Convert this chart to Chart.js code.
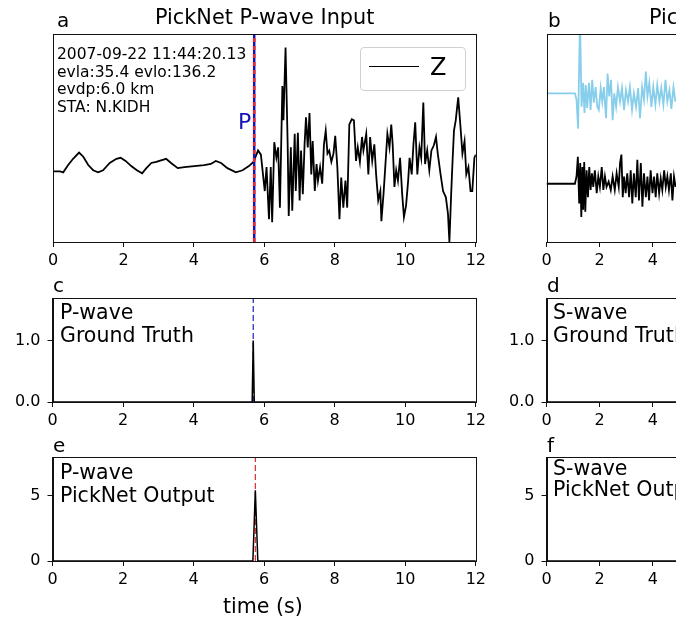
<!DOCTYPE html>
<html>
<head>
<meta charset="utf-8">
<script src="https://cdn.jsdelivr.net/npm/chart.js@4.4.1/dist/chart.umd.min.js"></script>
<style>
  body { margin: 0; background: #fff; }
  #fig { position: relative; width: 676px; height: 620px; overflow: hidden; background: #fff; }
  #fig canvas { position: absolute; }
  .t { position: absolute; white-space: nowrap; line-height: 1; font-family: 'DejaVu Sans', sans-serif; color: #000; }
</style>
</head>
<body>
<div id="fig">
  <canvas id="panelA" width="490" height="280" style="left:0;top:0"></canvas>
  <canvas id="panelB" width="500" height="280" style="left:490px;top:0"></canvas>
  <canvas id="panelC" width="490" height="160" style="left:0;top:280px"></canvas>
  <canvas id="panelD" width="500" height="160" style="left:490px;top:280px"></canvas>
  <canvas id="panelE" width="490" height="160" style="left:0;top:440px"></canvas>
  <canvas id="panelF" width="500" height="160" style="left:490px;top:440px"></canvas>

  <!-- titulos y letras de panel -->
  <div class="t" style="left:155px;top:7px;font-size:20.8px">PickNet P-wave Input</div>
  <div class="t" style="left:649px;top:7px;font-size:20.8px">PickNet S-wave Input</div>
  <div class="t" style="left:57px;top:10px;font-size:20px">a</div>
  <div class="t" style="left:548px;top:10px;font-size:20px">b</div>
  <div class="t" style="left:53px;top:275px;font-size:20px">c</div>
  <div class="t" style="left:547px;top:275px;font-size:20px">d</div>
  <div class="t" style="left:53px;top:435px;font-size:20px">e</div>
  <div class="t" style="left:547px;top:435px;font-size:20px">f</div>

  <!-- info del evento -->
  <div class="t" style="left:57px;top:47px;font-size:15.5px">2007-09-22 11:44:20.13</div>
  <div class="t" style="left:57px;top:65px;font-size:15.5px">evla:35.4 evlo:136.2</div>
  <div class="t" style="left:57px;top:82px;font-size:15.5px">evdp:6.0 km</div>
  <div class="t" style="left:57px;top:100px;font-size:15.5px">STA: N.KIDH</div>
  <div class="t" style="left:238px;top:111px;font-size:22px;color:#1414b4">P</div>

  <!-- leyenda -->
  <div style="position:absolute;left:360px;top:47px;width:104px;height:42px;border:1px solid #d0d0d0;border-radius:4px;background:rgba(255,255,255,0.8)"></div>
  <div style="position:absolute;left:369px;top:66px;width:50px;height:0;border-top:1.5px solid #000"></div>
  <div class="t" style="left:430px;top:55px;font-size:24px">Z</div>

  <div class="t" style="left:60px;top:302px;font-size:20.5px">P-wave</div>
  <div class="t" style="left:60px;top:325px;font-size:20.5px">Ground Truth</div>
  <div class="t" style="left:553px;top:302px;font-size:20.5px">S-wave</div>
  <div class="t" style="left:553px;top:325px;font-size:20.5px">Ground Truth</div>
  <div class="t" style="left:60px;top:462px;font-size:20.5px">P-wave</div>
  <div class="t" style="left:60px;top:485px;font-size:20.5px">PickNet Output</div>
  <div class="t" style="left:553px;top:458px;font-size:20.5px">S-wave</div>
  <div class="t" style="left:553px;top:479px;font-size:20.5px">PickNet Output</div>

  <div class="t" style="left:223px;top:596px;font-size:20.6px">time (s)</div>
</div>

<script>
// Traza Z (panel a), tiempo en s y amplitud normalizada
const timeA = [0.01, 0.20, 0.29, 0.43, 0.57, 0.74, 0.86, 1.00, 1.14, 1.28, 1.42, 1.61, 1.80, 1.92, 2.06, 2.22, 2.38, 2.53, 2.65, 2.79, 2.93,
  3.02, 3.21, 3.35, 3.54, 3.73, 4.01, 4.29, 4.48, 4.62, 4.77, 4.95, 5.19, 5.38, 5.56, 5.69, 5.82, 5.90,
  6.01, 6.06, 6.13, 6.18, 6.22, 6.28, 6.34, 6.39, 6.44, 6.51, 6.54, 6.60, 6.66, 6.69, 6.75, 6.79, 6.86, 6.89, 6.95,
  7.00, 7.04, 7.09, 7.14, 7.18, 7.23, 7.28, 7.33, 7.37, 7.43, 7.48, 7.52, 7.58, 7.64, 7.69, 7.74, 7.79, 7.84, 7.90, 7.96,
  8.01, 8.07, 8.13, 8.18, 8.24, 8.30, 8.35, 8.41, 8.48, 8.54, 8.60, 8.65, 8.71, 8.77, 8.81, 8.89, 8.95,
  9.00, 9.06, 9.12, 9.17, 9.23, 9.29, 9.32, 9.38, 9.43, 9.49, 9.55, 9.60, 9.64, 9.69, 9.74, 9.79, 9.85, 9.91, 9.96,
  10.02, 10.08, 10.12, 10.18, 10.23, 10.28, 10.34, 10.40, 10.45, 10.51, 10.56, 10.62, 10.68, 10.74, 10.81, 10.87, 10.92,
  11.00, 11.07, 11.15, 11.21, 11.25, 11.30, 11.34, 11.38, 11.43, 11.50, 11.56, 11.62, 11.68, 11.73, 11.79, 11.85, 11.90, 11.96, 12.00];
const ampA = [-0.32, -0.32, -0.33, -0.26, -0.20, -0.14, -0.18, -0.26, -0.31, -0.33, -0.31, -0.24, -0.20, -0.19, -0.22, -0.27, -0.31, -0.34, -0.29, -0.24, -0.23,
  -0.22, -0.20, -0.24, -0.29, -0.28, -0.27, -0.26, -0.25, -0.22, -0.24, -0.29, -0.33, -0.31, -0.27, -0.23, -0.12, -0.16,
  -0.51, -0.28, -0.78, -0.28, -0.81, -0.04, -0.19, -0.09, -0.67, 0.50, 0.17, 0.87, -0.06, -0.75, -0.09, -0.70, 0.04, -0.51, 0.05,
  -0.60, -0.12, -0.54, -0.06, 0.20, -0.09, 0.24, -0.35, -0.03, -0.51, -0.25, -0.41, -0.28, -0.44, -0.06, 0.07, -0.15, -0.12, -0.23, -0.15,
  0.02, -0.28, -0.78, -0.38, -0.67, -0.41, -0.67, 0.13, 0.18, 0.17, -0.22, -0.09, -0.23, 0.01, -0.12, 0.04, -0.35,
  0.01, -0.22, -0.06, -0.35, -0.60, -0.51, -0.80, -0.54, -0.28, 0.04, -0.09, 0.13, -0.06, -0.47, -0.31, -0.41, -0.19, -0.54, -0.76,
  -0.65, -0.41, -0.19, -0.35, -0.06, 0.15, -0.35, -0.09, -0.19, 0.34, -0.25, -0.12, -0.31, -0.12, -0.07, 0.01, -0.15,
  -0.35, -0.51, -0.57, -0.73, -1.00, -0.54, -0.22, 0.07, 0.17, 0.39, 0.13, -0.15, -0.03, -0.35, -0.28, -0.51, -0.51, -0.19, -0.16];

// Trazas del panel b (azul arriba, negra abajo)
const timeB1 = [0, 1.07, 1.13, 1.19, 1.26, 1.32, 1.38, 1.43, 1.48, 1.53, 1.60, 1.66, 1.72, 1.78, 1.85, 1.91, 1.97, 2.04, 2.10, 2.16, 2.24, 2.30,
  2.36, 2.43, 2.49, 2.55, 2.62, 2.69, 2.77, 2.84, 2.92, 2.99, 3.07, 3.14, 3.22, 3.29, 3.37, 3.45, 3.52, 3.60, 3.67, 3.74, 3.80, 3.87,
  3.95, 4.02, 4.10, 4.17, 4.25, 4.32, 4.40, 4.48, 4.55, 4.63, 4.70, 4.78, 4.85];
const ampB1 = [0.43, 0.43, 0.37, 0.09, 1.15, 0.30, 0.53, 0.24, 0.51, 0.29, 0.53, 0.27, 0.56, 0.34, 0.49, 0.30, 0.27, 0.48, 0.35, 0.49, 0.19, 0.62,
  0.40, 0.56, 0.17, 0.43, 0.30, 0.49, 0.35, 0.48, 0.27, 0.46, 0.35, 0.49, 0.27, 0.43, 0.30, 0.48, 0.19, 0.49, 0.37, 0.64, 0.40, 0.53,
  0.30, 0.49, 0.32, 0.51, 0.35, 0.48, 0.32, 0.56, 0.35, 0.46, 0.28, 0.49, 0.35];
const timeB2 = [0, 1.07, 1.13, 1.18, 1.23, 1.27, 1.31, 1.35, 1.38, 1.42, 1.46, 1.51, 1.56, 1.61, 1.66, 1.71, 1.76, 1.82, 1.89, 1.95, 2.01, 2.08,
  2.14, 2.20, 2.26, 2.34, 2.42, 2.49, 2.57, 2.64, 2.72, 2.77, 2.82, 2.87, 2.92, 2.98, 3.04, 3.11, 3.17, 3.23, 3.29, 3.36, 3.42, 3.48,
  3.55, 3.61, 3.67, 3.74, 3.80, 3.86, 3.92, 3.99, 4.05, 4.11, 4.17, 4.24, 4.30, 4.36, 4.43, 4.49, 4.55, 4.61, 4.68, 4.74, 4.80, 4.86];
const ampB2 = [-0.44, -0.44, -0.37, -0.18, -0.63, -0.24, -0.76, -0.28, -0.69, -0.23, -0.71, -0.31, -0.57, -0.28, -0.50, -0.34, -0.47, -0.31, -0.53, -0.37, -0.47, -0.28,
  -0.50, -0.37, -0.47, -0.42, -0.50, -0.37, -0.50, -0.34, -0.47, -0.24, -0.16, -0.57, -0.37, -0.53, -0.34, -0.57, -0.31, -0.63, -0.34, -0.57, -0.21, -0.60,
  -0.24, -0.66, -0.34, -0.57, -0.37, -0.60, -0.31, -0.53, -0.37, -0.57, -0.34, -0.53, -0.39, -0.50, -0.31, -0.47, -0.37, -0.50, -0.34, -0.60, -0.37, -0.47];

// Etiquetas verdaderas y salida de PickNet
const gtTime = [0, 5.66, 5.69, 5.72, 12];
const gtValue = [0, 0, 1, 0, 0];
const outTime = [0, 5.68, 5.75, 5.82, 12];
const outValue = [0, 0, 5.4, 0, 0];
const flatTime = [0, 16];
const flatValue = [0, 0];
const pickTrue = 5.69;
const pickNet = 5.75;
const pickInput = 5.71;

// Ticks
const xTicks12 = [0, 2, 4, 6, 8, 10, 12];
const xTicks16 = [0, 2, 4, 6, 8, 10, 12, 14, 16];
const yTicksGT = [0, 1];
const yTicksOut = [0, 5];

const pts = (xs, ys) => xs.map((x, i) => ({ x: x, y: ys[i] }));
const FONT = { family: 'DejaVu Sans', size: 16 };

// marco completo como en matplotlib
const frame = {
  id: 'frame',
  afterDraw(chart) {
    const { ctx, chartArea: a } = chart;
    const l = Math.round(a.left) + 0.5, t = Math.round(a.top) + 0.5;
    const r = Math.round(a.right) + 0.5, b = Math.round(a.bottom) + 0.5;
    ctx.save();
    ctx.strokeStyle = '#111';
    ctx.lineWidth = 1;
    ctx.strokeRect(l, t, r - l, b - t);
    ctx.restore();
  }
};

function xAxis(max, ticks, h) {
  return {
    type: 'linear', min: 0, max: max,
    afterBuildTicks: s => { s.ticks = ticks.map(v => ({ value: v })); },
    afterFit: s => { s.height = h; },
    grid: { drawOnChartArea: false, drawTicks: true, tickLength: 5, color: '#111' },
    border: { display: true, color: '#111' },
    ticks: { color: '#000', font: FONT, padding: 4, maxRotation: 0, autoSkip: false, callback: v => String(v) }
  };
}

function yAxis(min, max, ticks, w, fmt) {
  if (!ticks) return { type: 'linear', min: min, max: max, display: false };
  return {
    type: 'linear', min: min, max: max,
    afterBuildTicks: s => { s.ticks = ticks.map(v => ({ value: v })); },
    afterFit: s => { s.width = w; },
    grid: { drawOnChartArea: false, drawTicks: true, tickLength: 5, color: '#111' },
    border: { display: true, color: '#111' },
    ticks: { color: '#000', font: FONT, padding: 7, callback: fmt }
  };
}

function line(data, color, width, dash) {
  return {
    data: data, borderColor: color, borderWidth: width, borderDash: dash || [],
    pointRadius: 0, tension: 0, fill: false
  };
}

function panel(id, datasets, x, y, padding) {
  new Chart(document.getElementById(id), {
    type: 'line',
    data: { datasets: datasets },
    options: {
      responsive: false,
      animation: false,
      events: [],
      layout: { padding: padding },
      plugins: { legend: { display: false }, tooltip: { enabled: false } },
      scales: { x: x, y: y }
    },
    plugins: [frame]
  });
}

const fmt1 = v => v.toFixed(1);
const fmt0 = v => String(v);

// a
panel('panelA', [
  line(pts([pickInput, pickInput], [-1, 1]), '#e8262a', 2.5, [4, 4]),
  line(pts([pickInput, pickInput], [-1, 1]), '#1414b4', 2.5),
  line(pts(timeA, ampA), '#000', 1.8)
], xAxis(12, xTicks12, 38), yAxis(-1, 1), { left: 53, top: 34, right: 13, bottom: 0 });

// b
panel('panelB', [
  line(pts(timeB1, ampB1), '#87ceeb', 1.8),
  line(pts(timeB2, ampB2), '#000', 1.8)
], xAxis(16, xTicks16, 38), yAxis(-1, 1), { left: 56.5, top: 34, right: 18.5, bottom: 0 });

// c
panel('panelC', [
  line(pts(gtTime, gtValue), '#000', 1.5),
  line(pts([pickTrue, pickTrue], [0, 1.69]), '#2020c0', 1.2, [6, 3])
], xAxis(12, xTicks12, 38), yAxis(0, 1.69, yTicksGT, 52.5, fmt1), { left: 0, top: 18, right: 13, bottom: 0 });

// d
panel('panelD', [
  line(pts(flatTime, flatValue), '#000', 1.5)
], xAxis(16, xTicks16, 38), yAxis(0, 1.69, yTicksGT, 56.5, fmt1), { left: 0, top: 18, right: 18.5, bottom: 0 });

// e
panel('panelE', [
  line(pts(outTime, outValue), '#000', 1.5),
  line(pts([pickNet, pickNet], [0, 7.94]), '#e02828', 1.2, [6, 3])
], xAxis(12, xTicks12, 39), yAxis(0, 7.94, yTicksOut, 52.5, fmt0), { left: 0, top: 17, right: 13, bottom: 0 });

// f
panel('panelF', [
  line(pts(flatTime, flatValue), '#000', 1.5)
], xAxis(16, xTicks16, 39), yAxis(0, 7.94, yTicksOut, 56.5, fmt0), { left: 0, top: 17, right: 18.5, bottom: 0 });
</script>
</body>
</html>
